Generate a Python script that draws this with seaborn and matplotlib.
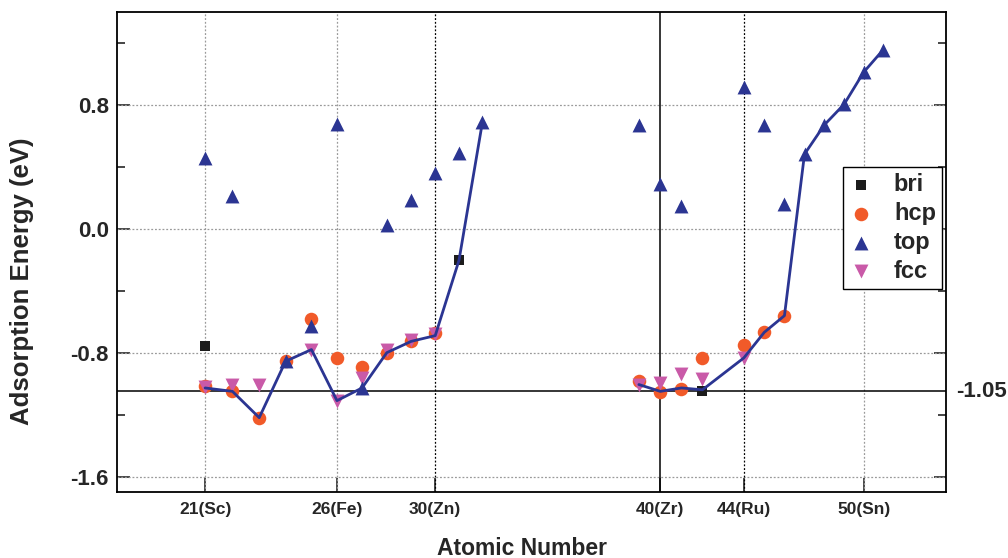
import numpy as np
import pandas as pd
import matplotlib
matplotlib.use("Agg")
import matplotlib.pyplot as plt
import matplotlib.transforms as mtransforms
import seaborn as sns

# ---------------- data ----------------
bri_z = [21, 31, 42]
bri_e = [-0.76, -0.20, -1.045]

hcp_z = [21, 22, 23, 24, 25, 26, 27, 28, 29, 30, 39, 40, 41, 42, 44, 45, 46]
hcp_e = [-1.015, -1.05, -1.22, -0.852, -0.585, -0.835, -0.895, -0.80, -0.727, -0.673,
         -0.98, -1.056, -1.032, -0.834, -0.753, -0.669, -0.561]

top_z = [21, 22, 24, 25, 26, 27, 28, 29, 30, 31, 32, 39, 40, 41, 44, 45, 46, 47, 48, 49, 50, 51]
top_e = [0.455, 0.21, -0.856, -0.63, 0.675, -1.028, 0.026, 0.187, 0.359, 0.492, 0.688,
         0.667, 0.288, 0.144, 0.918, 0.671, 0.159, 0.482, 0.671, 0.804, 1.011, 1.155]

fcc_z = [21, 22, 23, 25, 26, 27, 28, 29, 30, 39, 40, 41, 42, 44]
fcc_e = [-1.02, -1.006, -1.006, -0.78, -1.114, -0.963, -0.78, -0.716, -0.68,
         -1.006, -0.996, -0.935, -0.97, -0.834]

# most stable site per element, drawn as a line (two separate rows of the table)
stable_z = [21, 22, 23, 24, 25, 26, 27, 28, 29, 30, 31, 32,
            39, 40, 41, 42, 44, 45, 46, 47, 48, 49, 50, 51]
stable_e = [-1.028, -1.05, -1.22, -0.856, -0.78, -1.11, -1.028, -0.80, -0.727, -0.69, -0.204, 0.688,
            -1.006, -1.05, -1.028, -1.04, -0.834, -0.669, -0.561, 0.482, 0.671, 0.804, 1.011, 1.155]
stable_row = ["3d"] * 12 + ["4d"] * 12

xtick_vals = [21, 26, 30, 40, 44, 50]
xtick_labels = ["21(Sc)", "26(Fe)", "30(Zn)", "40(Zr)", "44(Ru)", "50(Sn)"]
ref_energy = -1.05
ref_label = "-1.05"

site_names = ["bri", "hcp", "top", "fcc"]
# -----------------------------------------------------------------

sns.set_style("ticks")
plt.rcParams["font.family"] = ["Liberation Sans", "DejaVu Sans"]
plt.rcParams["font.weight"] = "bold"

df = pd.concat([
    pd.DataFrame({"Z": bri_z, "E": bri_e, "site": "bri"}),
    pd.DataFrame({"Z": hcp_z, "E": hcp_e, "site": "hcp"}),
    pd.DataFrame({"Z": top_z, "E": top_e, "site": "top"}),
    pd.DataFrame({"Z": fcc_z, "E": fcc_e, "site": "fcc"}),
], ignore_index=True)
stable = pd.DataFrame({"Z": stable_z, "E": stable_e, "row": stable_row})

colors = {"bri": "#1c1c1c", "hcp": "#f15a29", "top": "#2b3592", "fcc": "#c95aa8"}
markers = {"bri": "s", "hcp": "o", "top": "^", "fcc": "v"}
sizes = {"bri": 60, "hcp": 95, "top": 100, "fcc": 100}
zord = {"bri": 6, "hcp": 3, "top": 5, "fcc": 4}

fig = plt.figure(figsize=(10.08, 5.58), dpi=100)
ax = fig.add_axes([117 / 1008, 1 - 492 / 558, (946 - 117) / 1008, (492 - 12) / 558])

p = 0.6
ax.set_xscale("function", functions=(lambda x: np.sign(x) * np.abs(x) ** p,
                                     lambda y: np.sign(y) * np.abs(y) ** (1 / p)))

# grid / reference lines
for yv in [-1.6, -0.8, 0.0, 0.8]:
    ax.axhline(yv, color="#9a9a9a", lw=0.9, ls=(0, (1.5, 1.5)), zorder=1)
for xv in [21, 26, 50]:
    ax.axvline(xv, color="#9a9a9a", lw=0.9, ls=(0, (1.5, 1.5)), zorder=1)
for xv in [30, 44]:
    ax.axvline(xv, color="black", lw=0.9, ls=(0, (1.5, 1.5)), zorder=1)
ax.axvline(40, color="black", lw=1.1, zorder=1)
ax.axhline(ref_energy, color="black", lw=1.1, zorder=1)

for s in site_names:
    sns.scatterplot(data=df[df.site == s], x="Z", y="E", ax=ax, color=colors[s],
                    marker=markers[s], s=sizes[s], linewidth=0, label=s,
                    zorder=zord[s])

sns.lineplot(data=stable, x="Z", y="E", units="row", estimator=None, ax=ax,
             color="#2b3592", lw=2.0, zorder=7, legend=False, sort=False)

ax.set_xlim(17.9, 54.3)
ax.set_ylim(-1.7, 1.4)
ax.set_xticks(xtick_vals)
ax.set_xticklabels(xtick_labels, fontsize=12.5, fontweight="bold")
ax.set_xticks([], minor=True)
ax.set_yticks([-1.6, -0.8, 0.0, 0.8])
ax.set_yticklabels(["-1.6", "-0.8", "0.0", "0.8"], fontsize=16, fontweight="bold")
ax.set_yticks([-1.2, -0.4, 0.4, 1.2], minor=True)
ax.tick_params(axis="y", which="major", direction="in", length=9, width=1.2,
               right=True, left=True, pad=6)
ax.tick_params(axis="y", which="minor", direction="in", length=6, width=1.2,
               right=True, left=True)
ax.tick_params(axis="x", which="major", direction="in", length=10, width=1.2,
               bottom=True, top=False, pad=7)
for sp in ax.spines.values():
    sp.set_visible(True)
    sp.set_linewidth(1.3)
    sp.set_color("black")

ax.set_xlabel("Atomic Number", fontsize=16.5, fontweight="bold")
ax.set_ylabel("Adsorption Energy (eV)", fontsize=18.5, fontweight="bold")
ax.xaxis.set_label_coords(0.488, -0.093)
ax.yaxis.set_label_coords(-0.1, 0.44)

trans = mtransforms.blended_transform_factory(ax.transAxes, ax.transData)
ax.text(1.0125, ref_energy, ref_label, transform=trans, ha="left", va="center",
        fontsize=16, fontweight="bold", clip_on=False)

leg = ax.legend(loc="upper right", bbox_to_anchor=(0.995, 0.677), frameon=True,
                fancybox=False, edgecolor="black", framealpha=1,
                prop={"size": 17, "weight": "bold"}, handlelength=1.0,
                handletextpad=0.9, borderpad=0.25, labelspacing=0.25,
                borderaxespad=0)
leg.get_frame().set_linewidth(1.0)
leg.set_zorder(10)

fig.savefig("out.png", dpi=100)
